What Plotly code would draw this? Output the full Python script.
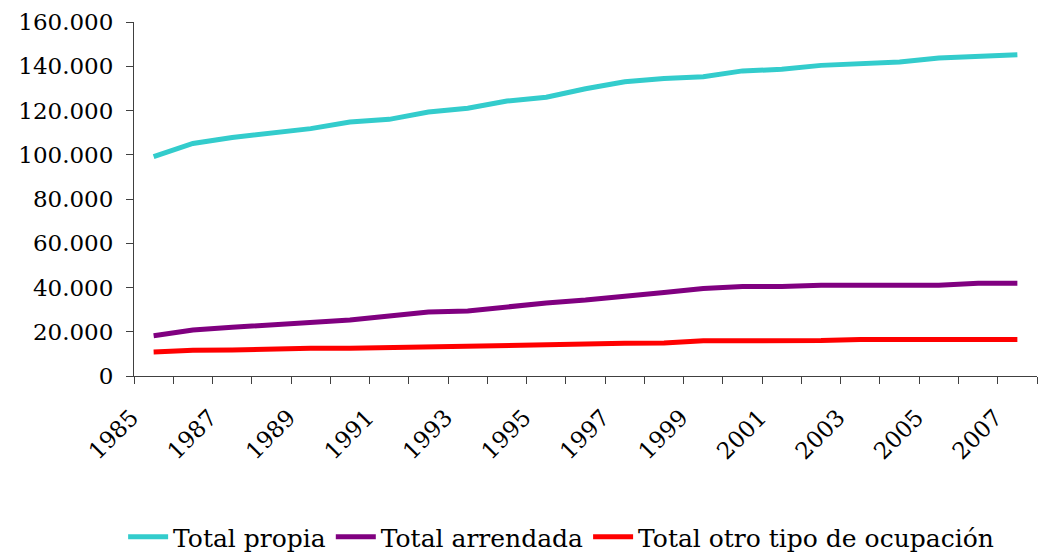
"""Tenencia de la vivienda 1985-2007."""

import plotly.graph_objects as go

years = list(range(1985, 2008))

total_propia = [
    99100, 105100, 107800, 110000, 111800, 114800, 116000, 119300, 121000,
    124300, 126000, 129800, 133000, 134500, 135300, 137900, 138600, 140400,
    141300, 141900, 143700, 144600, 145200,
]
total_arrendada = [
    18200, 20800, 22000, 23100, 24500, 25300, 27100, 28900, 29400,
    31300, 33000, 34300, 35800, 37700, 39600, 40400, 40400, 41000,
    41000, 41000, 41000, 41900, 41900,
]
total_otro = [
    10800, 11600, 11700, 12200, 12500, 12500, 12900, 13300, 13300,
    14000, 14300, 14900, 14800, 14900, 15900, 15900, 15900, 16000,
    16500, 16500, 16500, 16500, 16500,
]

series_names = ["Total propia", "Total arrendada", "Total otro tipo de ocupación"]
series_colors = ["#33CCCC", "#800080", "#FF0000"]
label_years = years[::2]

font_family = "DejaVu Serif"

fig = go.Figure()

for name, values, color in zip(
    series_names, [total_propia, total_arrendada, total_otro], series_colors
):
    fig.add_trace(
        go.Scatter(
            x=years,
            y=values,
            mode="lines",
            name=name,
            line=dict(color=color, width=5),
        )
    )

# page body adds an 8px margin, so the figure is a bit smaller than the window
fig.update_layout(
    width=1031,
    height=546,
    margin=dict(l=126, r=2, t=14, b=178, autoexpand=False),
    paper_bgcolor="white",
    plot_bgcolor="white",
    separators=",.",
    font=dict(family=font_family, size=23, color="black"),
    showlegend=True,
    legend=dict(
        orientation="h",
        x=0.473,
        xanchor="center",
        y=-0.455,
        yanchor="middle",
        font=dict(size=25),
        itemwidth=40,
    ),
)

fig.update_xaxes(
    type="linear",
    range=[1984.5, 2007.5],
    tickvals=label_years,
    ticktext=[str(y) for y in label_years],
    tickangle=-45,
    ticks="",
    ticklabelshift=-22,
    ticklabelstandoff=18,
    showgrid=False,
    zeroline=False,
    showline=True,
    linecolor="#404040",
    linewidth=1,
    automargin=False,
    minor=dict(
        ticks="outside",
        tick0=1984.5,
        dtick=1,
        ticklen=7,
        tickcolor="#404040",
        showgrid=False,
    ),
    tickfont=dict(size=23),
)

fig.update_yaxes(
    range=[0, 160000],
    dtick=20000,
    tickformat=",d",
    ticks="outside",
    ticklen=7,
    tickcolor="#404040",
    ticklabelstandoff=8,
    showgrid=False,
    zeroline=False,
    showline=True,
    linecolor="#404040",
    linewidth=1,
    automargin=False,
    tickfont=dict(size=23),
)

fig.write_html("out.html")
